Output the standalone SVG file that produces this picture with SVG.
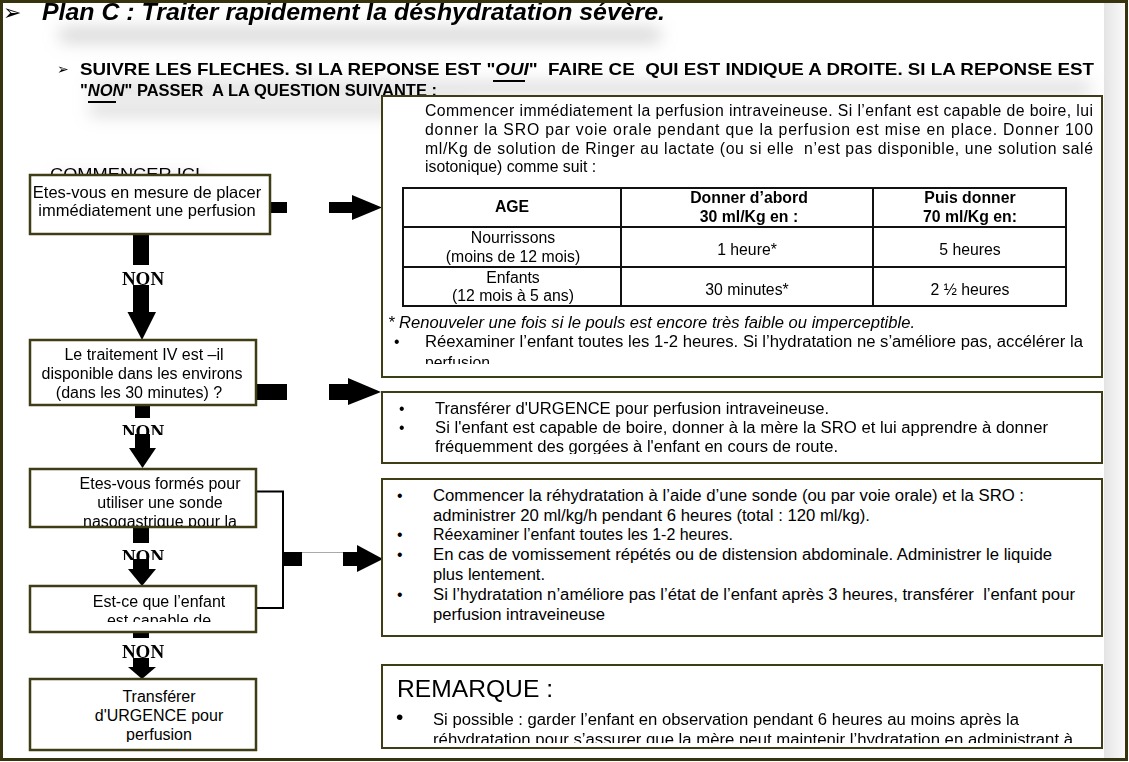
<svg xmlns="http://www.w3.org/2000/svg" width="1129" height="762" viewBox="0 0 1129 762">
<style>
.s{font-family:"Liberation Sans",Arial,sans-serif;fill:#000}
.t{font-size:15.8px}
.q{font-size:16px}
.b{font-weight:bold}
.i{font-style:italic}
.c{text-anchor:middle}
.pre{white-space:pre}
.non{font-family:"Liberation Serif","Times New Roman",serif;font-weight:bold;font-size:19px;text-anchor:middle;fill:#000}
.box{fill:#fff;stroke:#3f3d16;stroke-width:2.5}
.rbox{fill:#fff;stroke:#3f3d16;stroke-width:2}
.tb{fill:none;stroke:#111;stroke-width:2}
.sh{fill:#a0a0a0;opacity:.4}
.ar{fill:#000}
.bul{font-family:"DejaVu Sans",sans-serif;fill:#000}
</style>
<defs>
<filter id="blur" x="-20%" y="-200%" width="140%" height="500%"><feGaussianBlur stdDeviation="8"/></filter>
<clipPath id="cb1"><rect x="382" y="96" width="720" height="268"/></clipPath>
<clipPath id="cb2"><rect x="382" y="392" width="720" height="62"/></clipPath>
<clipPath id="cb4"><rect x="382" y="665" width="720" height="78"/></clipPath>
<clipPath id="cC"><rect x="30" y="469" width="226" height="57"/></clipPath>
<clipPath id="cD"><rect x="30" y="586" width="226" height="36"/></clipPath>
<clipPath id="cE"><rect x="30" y="679" width="226" height="63"/></clipPath>
<clipPath id="cn2"><rect x="100" y="415" width="90" height="20"/></clipPath>
<clipPath id="cn3"><rect x="100" y="540" width="90" height="20"/></clipPath>
<linearGradient id="gr" x1="0" y1="0" x2="1" y2="0"><stop offset="0" stop-color="#e4e4e4"/><stop offset="1" stop-color="#fbfbfb"/></linearGradient>
</defs>
<rect width="1129" height="762" fill="#fff"/>
<rect x="1104" y="3" width="22" height="755" fill="url(#gr)"/>

<g id="header">
  <g filter="url(#blur)">
    <rect class="sh" x="60" y="27" width="600" height="16"/>
    <rect class="sh" x="90" y="82" width="1000" height="12"/>
    <rect class="sh" x="90" y="104" width="380" height="12"/>
    <rect class="sh" x="55" y="176" width="150" height="8"/>
  </g>
  <text class="bul" x="3" y="20" font-size="22">➢</text>
  <text class="s b i" x="42" y="20" font-size="24" textLength="623" lengthAdjust="spacingAndGlyphs">Plan C : Traiter rapidement la déshydratation sévère.</text>
  <text class="bul" x="57" y="74" font-size="14">➢</text>
  <text class="s b pre" x="80" y="75" font-size="16.5" textLength="1014" lengthAdjust="spacingAndGlyphs">SUIVRE LES FLECHES. SI LA REPONSE EST "<tspan class="i">OUI</tspan>"  FAIRE CE  QUI EST INDIQUE A DROITE. SI LA REPONSE EST</text>
  <text class="s b pre" x="80" y="96" font-size="16.5">"<tspan class="i">NON</tspan>" PASSER  A LA QUESTION SUIVANTE :</text>
  <rect x="493" y="80" width="32" height="2" fill="#000"/>
  <rect x="88" y="101" width="28" height="2" fill="#000"/>
  <text class="s" x="50" y="180" font-size="17" textLength="150" lengthAdjust="spacingAndGlyphs">COMMENCER ICI</text>
</g>

<g id="connectors">
  <rect class="ar" x="270" y="202" width="17" height="11"/>
  <rect class="ar" x="329" y="202" width="24" height="11"/>
  <polygon class="ar" points="352,195 382,207.5 352,220"/>
  <rect class="ar" x="256" y="384" width="31" height="16"/>
  <rect class="ar" x="329" y="384" width="20" height="16"/>
  <polygon class="ar" points="348,378 381,392 348,405"/>
  <polyline points="256,491.5 283,491.5 283,608 256,608" fill="none" stroke="#000" stroke-width="2"/>
  <rect class="ar" x="283" y="552" width="19" height="14"/>
  <line x1="302" y1="552.5" x2="343" y2="552.5" stroke="#aaa" stroke-width="1"/>
  <rect class="ar" x="343" y="552" width="15" height="14"/>
  <polygon class="ar" points="357,545 383,559 357,572"/>
  <rect class="ar" x="133" y="234" width="16" height="31"/>
  <text class="non" x="143" y="285">NON</text>
  <rect class="ar" x="133" y="285" width="16" height="28"/>
  <polygon class="ar" points="127.5,312 156,312 142,340"/>
  <rect class="ar" x="135" y="405" width="15" height="13"/>
  <text class="non" x="143" y="438" clip-path="url(#cn2)">NON</text>
  <rect class="ar" x="135" y="434" width="15" height="15"/>
  <polygon class="ar" points="129,448 156,448 142.5,468"/>
  <rect class="ar" x="133" y="527" width="16" height="16"/>
  <text class="non" x="143" y="563" clip-path="url(#cn3)">NON</text>
  <rect class="ar" x="133" y="559" width="16" height="11"/>
  <polygon class="ar" points="128,569 156,569 142,586"/>
  <rect class="ar" x="133" y="632" width="16" height="6"/>
  <text class="non" x="143" y="658">NON</text>
  <rect class="ar" x="133" y="658" width="16" height="10"/>
  <polygon class="ar" points="128,667 156,667 142,679"/>
</g>

<g id="nodeA">
  <rect class="box" x="30" y="175" width="240" height="59"/>
  <text class="s c" x="147" y="198" font-size="16.5">Etes-vous en mesure de placer</text>
  <text class="s c" x="147" y="216" font-size="16.5">immédiatement une perfusion</text>
</g>
<g id="nodeB">
  <rect class="box" x="30" y="340" width="226" height="65"/>
  <text class="s c q" x="144" y="360">Le traitement IV est –il</text>
  <text class="s c q" x="142" y="379">disponible dans les environs</text>
  <text class="s c q" x="139" y="398">(dans les 30 minutes) ?</text>
</g>
<g id="nodeC">
  <rect class="box" x="30" y="469" width="226" height="58"/>
  <g clip-path="url(#cC)">
    <text class="s c q" x="160" y="489">Etes-vous formés pour</text>
    <text class="s c q" x="160" y="508">utiliser une sonde</text>
    <text class="s c q" x="160" y="527">nasogastrique pour la</text>
  </g>
</g>
<g id="nodeD">
  <rect class="box" x="30" y="586" width="226" height="46"/>
  <g clip-path="url(#cD)">
    <text class="s c q" x="159" y="607">Est-ce que l’enfant</text>
    <text class="s c q" x="159" y="626">est capable de</text>
  </g>
</g>
<g id="nodeE">
  <rect class="box" x="30" y="679" width="226" height="71"/>
  <g clip-path="url(#cE)">
    <text class="s c q" x="159" y="702">Transférer</text>
    <text class="s c q" x="159" y="721">d'URGENCE pour</text>
    <text class="s c q" x="159" y="740">perfusion</text>
  </g>
</g>

<g id="box1">
  <rect class="rbox" x="382" y="96" width="720" height="281"/>
  <g clip-path="url(#cb1)">
    <text class="s t" x="425" y="116" textLength="668" lengthAdjust="spacing">Commencer immédiatement la perfusion intraveineuse. Si l’enfant est capable de boire, lui</text>
    <text class="s t" x="425" y="135" textLength="668" lengthAdjust="spacing">donner la SRO par voie orale pendant que la perfusion est mise en place. Donner 100</text>
    <text class="s t pre" x="425" y="154" textLength="668" lengthAdjust="spacing">ml/Kg de solution de Ringer au lactate (ou si elle  n’est pas disponible, une solution salé</text>
    <text class="s t" x="425" y="172">isotonique) comme suit :</text>
    <rect class="tb" x="403" y="188" width="663" height="118" stroke-width="2.5"/>
    <line class="tb" x1="621" y1="188" x2="621" y2="306"/>
    <line class="tb" x1="873" y1="188" x2="873" y2="306"/>
    <line class="tb" x1="403" y1="227" x2="1066" y2="227"/>
    <line class="tb" x1="403" y1="267" x2="1066" y2="267"/>
    <text class="s t b c" x="512" y="212">AGE</text>
    <text class="s t b c" x="749" y="203">Donner d’abord</text>
    <text class="s t b c" x="749" y="222">30 ml/Kg en :</text>
    <text class="s t b c" x="970" y="203">Puis donner</text>
    <text class="s t b c" x="970" y="222">70 ml/Kg en:</text>
    <text class="s t c" x="513" y="243">Nourrissons</text>
    <text class="s t c" x="513" y="262">(moins de 12 mois)</text>
    <text class="s t c" x="747" y="255">1 heure*</text>
    <text class="s t c" x="970" y="255">5 heures</text>
    <text class="s t c" x="513" y="283">Enfants</text>
    <text class="s t c" x="513" y="301">(12 mois à 5 ans)</text>
    <text class="s t c" x="747" y="295">30 minutes*</text>
    <text class="s t c" x="970" y="295">2 ½ heures</text>
    <text class="s t i" x="388" y="328" textLength="527" lengthAdjust="spacingAndGlyphs">* Renouveler une fois si le pouls est encore très faible ou imperceptible.</text>
    <text class="s t" x="394" y="347">•</text>
    <text class="s t" x="425" y="347" textLength="658" lengthAdjust="spacingAndGlyphs">Réexaminer l’enfant toutes les 1-2 heures. Si l’hydratation ne s’améliore pas, accélérer la</text>
    <text class="s t" x="425" y="368">perfusion</text>
  </g>
</g>

<g id="box2">
  <rect class="rbox" x="382" y="392" width="720" height="71"/>
  <g clip-path="url(#cb2)">
    <text class="s t" x="399" y="414">•</text>
    <text class="s t" x="435" y="414" textLength="394" lengthAdjust="spacingAndGlyphs">Transférer d'URGENCE pour perfusion intraveineuse.</text>
    <text class="s t" x="399" y="433">•</text>
    <text class="s t" x="435" y="433" textLength="613" lengthAdjust="spacingAndGlyphs">Si l'enfant est capable de boire, donner à la mère la SRO et lui apprendre à donner</text>
    <text class="s t" x="435" y="452" textLength="403" lengthAdjust="spacingAndGlyphs">fréquemment des gorgées à l'enfant en cours de route.</text>
  </g>
</g>

<g id="box3">
  <rect class="rbox" x="382" y="479" width="720" height="157"/>
  <text class="s t" x="397" y="501">•</text>
  <text class="s t" x="433" y="501" textLength="591" lengthAdjust="spacingAndGlyphs">Commencer la réhydratation à l’aide d’une sonde (ou par voie orale) et la SRO :</text>
  <text class="s t" x="433" y="521" textLength="437" lengthAdjust="spacingAndGlyphs">administrer 20 ml/kg/h pendant 6 heures (total : 120 ml/kg).</text>
  <text class="s t" x="397" y="540">•</text>
  <text class="s t" x="433" y="540" textLength="300" lengthAdjust="spacingAndGlyphs">Réexaminer l’enfant toutes les 1-2 heures.</text>
  <text class="s t" x="397" y="560">•</text>
  <text class="s t" x="433" y="560" textLength="619" lengthAdjust="spacingAndGlyphs">En cas de vomissement répétés ou de distension abdominale. Administrer le liquide</text>
  <text class="s t" x="433" y="580" textLength="112" lengthAdjust="spacingAndGlyphs">plus lentement.</text>
  <text class="s t" x="397" y="600">•</text>
  <text class="s t pre" x="433" y="600" textLength="642" lengthAdjust="spacingAndGlyphs">Si l’hydratation n’améliore pas l’état de l’enfant après 3 heures, transférer  l’enfant pour</text>
  <text class="s t" x="433" y="620" textLength="172" lengthAdjust="spacingAndGlyphs">perfusion intraveineuse</text>
</g>

<g id="box4">
  <rect class="rbox" x="382" y="665" width="720" height="83"/>
  <g clip-path="url(#cb4)">
    <text class="s" x="397" y="697" font-size="23.5" textLength="156" lengthAdjust="spacingAndGlyphs">REMARQUE :</text>
    <text class="s" x="396" y="724" font-size="21">•</text>
    <text class="s t" x="433" y="725" textLength="586" lengthAdjust="spacingAndGlyphs">Si possible : garder l’enfant en observation pendant 6 heures au moins après la</text>
    <text class="s t" x="433" y="745" textLength="640" lengthAdjust="spacingAndGlyphs">réhydratation pour s’assurer que la mère peut maintenir l’hydratation en administrant à</text>
  </g>
</g>

<rect x="1.5" y="1.5" width="1125" height="758" fill="none" stroke="#36340f" stroke-width="3"/>
</svg>
